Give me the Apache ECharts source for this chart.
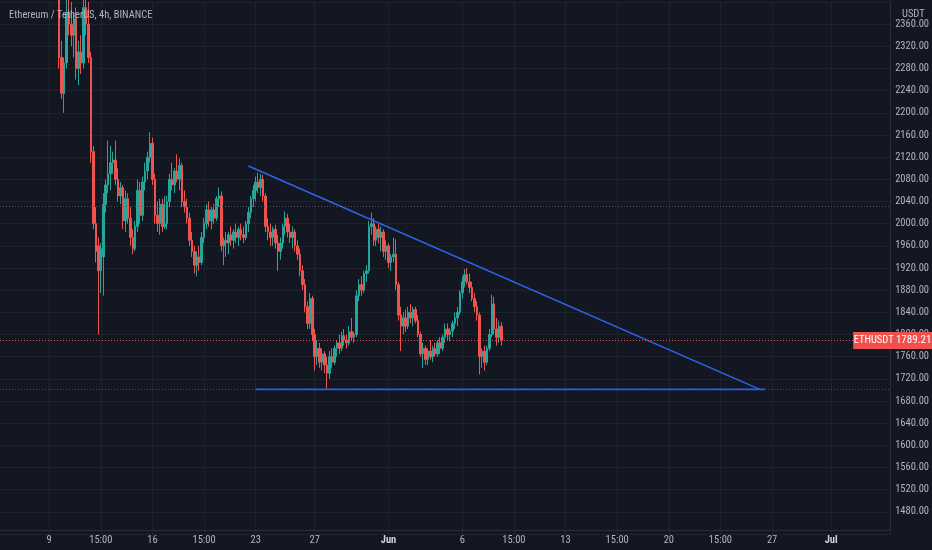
<!DOCTYPE html>
<html>
<head>
<meta charset="utf-8">
<script src="https://cdn.jsdelivr.net/npm/echarts@6/dist/echarts.min.js"></script>
<style>
  html, body { margin: 0; padding: 0; background: #131722; }
  #chart { width: 932px; height: 550px; }
</style>
</head>
<body>
<div id="chart"></div>
<script>
// ETH/USDT 4h, Binance
var FONT = "'Liberation Sans Narrow', 'Roboto Condensed', Roboto, 'Liberation Sans', sans-serif";
var slotCount = 363;          // 4h slots from the left edge to the price scale
var firstCandle = 24;         // slot of the first candle
var tickIndex = [20, 41, 62, 83, 104, 128, 158, 188, 209, 230, 251, 272, 293, 314, 338];
var tickText = ['9', '15:00', '16', '15:00', '23', '27', 'Jun', '6', '15:00', '13', '15:00', '20', '15:00', '27', 'Jul'];
var monthTicks = ['Jun', 'Jul'];
var priceMin = 1440, priceMax = 2400, priceStep = 40;

// [open, high, low, close]
var candlesOHLC = [
  [2420,2440,2280,2300],[2300,2330,2225,2235],[2235,2300,2200,2290],[2290,2420,2280,2380],
  [2380,2420,2340,2360],[2360,2400,2320,2340],[2340,2380,2300,2370],[2370,2390,2260,2280],
  [2280,2330,2250,2310],[2310,2340,2270,2290],[2290,2410,2280,2390],[2390,2420,2340,2360],
  [2360,2400,2290,2300],[2300,2310,2110,2130],[2130,2140,1990,2000],[2000,2030,1930,1950],
  [1960,1975,1800,1915],[1915,1965,1875,1955],[1940,2055,1870,2035],[2035,2080,2020,2070],
  [2070,2150,2055,2090],[2090,2140,2060,2110],[2110,2130,2090,2115],[2115,2150,2070,2080],
  [2080,2100,2040,2050],[2050,2075,2035,2065],[2065,2070,1990,2005],[2005,2060,1985,2045],
  [2045,2055,2000,2010],[2010,2030,1960,1975],[1975,1990,1945,1955],[1955,2005,1950,1995],
  [1995,2080,1985,2060],[2060,2075,2000,2015],[2015,2085,2005,2075],[2075,2110,2060,2095],
  [2095,2130,2080,2120],[2120,2165,2110,2145],[2145,2155,2070,2080],[2080,2090,2000,2015],
  [2015,2040,1985,2000],[2000,2045,1980,2035],[2035,2045,1985,1995],[1995,2050,1990,2000],
  [2000,2050,1990,2040],[2040,2090,2030,2080],[2080,2110,2060,2070],[2070,2100,2055,2095],
  [2095,2125,2075,2080],[2080,2118,2060,2105],[2105,2110,2030,2040],[2040,2060,2020,2030],
  [2030,2045,2000,2010],[2010,2020,1960,1970],[1970,1985,1940,1950],[1950,1960,1910,1925],
  [1925,1950,1905,1940],[1940,1960,1915,1930],[1930,1985,1925,1975],[1975,2010,1965,2000],
  [2000,2035,1990,2025],[2025,2040,1995,2005],[2005,2030,1990,2025],[2025,2035,2000,2010],
  [2010,2050,2005,2045],[2045,2065,2030,2050],[2050,2058,1950,1960],[1960,1975,1925,1970],
  [1970,1985,1940,1965],[1965,1985,1945,1980],[1980,1995,1960,1970],[1970,1990,1955,1985],
  [1985,2000,1965,1975],[1975,1995,1960,1990],[1990,2000,1970,1980],[1980,1995,1965,1975],
  [1975,2005,1970,2000],[2000,2030,1985,2020],[2020,2050,2010,2045],[2045,2070,2030,2060],
  [2060,2085,2040,2075],[2075,2092,2055,2065],[2065,2090,2050,2080],[2080,2088,2040,2050],
  [2050,2055,1985,1995],[1995,2010,1970,1985],[1985,2000,1960,1975],[1975,1995,1960,1990],
  [1990,1998,1955,1965],[1965,1980,1915,1950],[1950,1975,1935,1965],[1965,2000,1955,1995],
  [1995,2022,1980,2010],[2010,2018,1975,1985],[1985,2000,1965,1975],[1975,1995,1955,1985],
  [1985,1990,1950,1960],[1960,1970,1935,1945],[1945,1955,1905,1915],[1915,1925,1880,1890],
  [1890,1900,1840,1850],[1850,1860,1810,1820],[1820,1875,1810,1865],[1865,1870,1790,1800],
  [1800,1810,1735,1760],[1760,1790,1745,1775],[1775,1785,1740,1750],[1750,1775,1735,1765],
  [1765,1770,1730,1745],[1745,1760,1700,1730],[1730,1770,1720,1760],[1760,1775,1740,1750],
  [1750,1780,1745,1775],[1775,1790,1760,1785],[1785,1800,1765,1775],[1775,1805,1770,1798],
  [1798,1810,1780,1790],[1790,1800,1775,1785],[1785,1815,1780,1805],[1805,1830,1790,1795],
  [1795,1805,1785,1800],[1800,1880,1795,1870],[1870,1900,1860,1890],[1890,1905,1870,1880],
  [1880,1915,1875,1910],[1910,1925,1895,1915],[1915,2005,1910,1995],[1995,2020,1980,2000],
  [2000,2010,1960,1970],[1970,1995,1960,1990],[1990,2000,1965,1975],[1975,1995,1950,1985],
  [1985,1990,1940,1950],[1950,1970,1935,1960],[1960,1965,1920,1930],[1930,1945,1915,1940],
  [1940,1975,1930,1945],[1945,1972,1880,1890],[1890,1895,1825,1835],[1835,1850,1770,1815],
  [1815,1840,1800,1830],[1830,1845,1805,1815],[1815,1850,1810,1840],[1840,1855,1820,1830],
  [1830,1850,1815,1845],[1845,1850,1820,1825],[1825,1835,1795,1800],[1800,1805,1760,1765],
  [1765,1785,1740,1775],[1775,1780,1745,1755],[1755,1775,1745,1770],[1770,1790,1755,1760],
  [1760,1780,1750,1775],[1775,1785,1760,1765],[1765,1790,1760,1785],[1785,1795,1765,1775],
  [1775,1800,1770,1795],[1795,1820,1785,1810],[1810,1820,1790,1800],[1800,1812,1788,1806],
  [1806,1825,1795,1820],[1820,1840,1810,1830],[1830,1850,1815,1840],[1840,1880,1835,1875],
  [1875,1905,1865,1895],[1895,1918,1885,1908],[1908,1920,1890,1895],[1895,1910,1875,1885],
  [1885,1895,1860,1865],[1865,1875,1840,1850],[1850,1860,1825,1835],[1835,1840,1728,1760],
  [1760,1775,1740,1770],[1770,1780,1735,1750],[1750,1780,1745,1775],[1775,1810,1770,1800],
  [1800,1872,1795,1855],[1855,1868,1800,1810],[1810,1830,1780,1795],[1795,1825,1785,1815],
  [1815,1822,1780,1789.21]
];
var lastPrice = 1789.21;
var symbolTag = 'ETHUSDT';

// drawings: [slot, price]
var resistanceLine = [[101, 2104], [309, 1701]];
var supportLine = [[104, 1701], [311, 1701]];
var dottedLevels = [2032, 1701];

var UP = '#26a69a', DOWN = '#ef5350', TEXT = '#b2b5be', GRID = '#1e222d', BLUE = '#2f63eb';

var categories = [];
for (var i = 0; i < slotCount; i++) categories.push('s' + i);

var candleData = [];
for (var k = 0; k < firstCandle; k++) candleData.push('-');
candlesOHLC.forEach(function(c) {
  candleData.push([c[0], c[3], c[2], c[1]]); // echarts order: open, close, low, high
});

function isTick(index) {
  return tickIndex.indexOf(index) >= 0;
}

var levelLines = dottedLevels.map(function(v) {
  return { yAxis: v, lineStyle: { color: '#50535e', type: [1, 2], width: 1 }, label: { show: false } };
});
levelLines.push({
  yAxis: lastPrice,
  lineStyle: { color: DOWN, type: [1, 2], width: 1 },
  label: {
    show: true, position: 'end', distance: -37,
    formatter: '{n|' + symbolTag + '}{p|' + lastPrice.toFixed(2) + '}',
    backgroundColor: '#f0514f', padding: [3, 0, 3, 0],
    rich: {
      n: { color: '#fff', fontFamily: FONT, fontSize: 10.5, width: 41, align: 'center' },
      p: { color: '#fff', fontFamily: FONT, fontSize: 11, width: 39, align: 'center' }
    }
  }
});

var chart = echarts.init(document.getElementById('chart'), null, { renderer: 'canvas' });
chart.setOption({
  backgroundColor: '#131722',
  animation: false,
  textStyle: { fontFamily: FONT },
  title: [
    { text: 'Ethereum / TetherUS, 4h, BINANCE', left: 4, top: 5,
      textStyle: { color: TEXT, fontSize: 10.5, fontWeight: 'normal', fontFamily: FONT } },
    { text: 'USDT', left: 897, top: 4,
      textStyle: { color: TEXT, fontSize: 10.5, fontWeight: 'normal', fontFamily: FONT } }
  ],
  grid: { left: 0, right: 39, top: 2, bottom: 16 },
  xAxis: {
    type: 'category',
    data: categories,
    boundaryGap: false,
    offset: -4,
    axisLine: { show: true, lineStyle: { color: '#2a2e39' } },
    axisTick: { show: false },
    axisLabel: {
      interval: function(index) { return isTick(index); },
      formatter: function(value, index) {
        var t = tickText[tickIndex.indexOf(index)];
        return monthTicks.indexOf(t) >= 0 ? '{m|' + t + '}' : t;
      },
      color: TEXT, fontSize: 10.5, fontFamily: FONT, margin: 5,
      rich: { m: { color: '#d1d4dc', fontWeight: 'bold', fontSize: 10.5, fontFamily: FONT } }
    },
    splitLine: {
      show: true,
      interval: function(index) { return isTick(index); },
      lineStyle: { color: GRID, width: 1 }
    }
  },
  yAxis: {
    type: 'value',
    position: 'right',
    min: priceMin, max: priceMax, interval: priceStep,
    axisLine: { show: true, lineStyle: { color: '#2a2e39' } },
    axisTick: { show: false },
    axisLabel: {
      color: TEXT, fontSize: 10.5, fontFamily: FONT, margin: 5,
      formatter: function(v) {
        if (v <= priceMin || v >= priceMax) return '';
        return v.toFixed(2);
      }
    },
    splitLine: { show: true, lineStyle: { color: GRID, width: 1 } }
  },
  series: [
    {
      type: 'candlestick',
      data: candleData,
      barWidth: 2,
      clip: true,
      itemStyle: { color: UP, color0: DOWN, borderColor: UP, borderColor0: DOWN, borderWidth: 1 },
      markLine: { symbol: 'none', silent: true, animation: false, data: levelLines },
      z: 3
    },
    {
      type: 'line',
      data: resistanceLine,
      symbol: 'none',
      lineStyle: { color: BLUE, width: 1.6 },
      silent: true, z: 4
    },
    {
      type: 'line',
      data: supportLine,
      symbol: 'none',
      lineStyle: { color: BLUE, width: 1.6 },
      silent: true, z: 4
    }
  ]
});
</script>
</body>
</html>
